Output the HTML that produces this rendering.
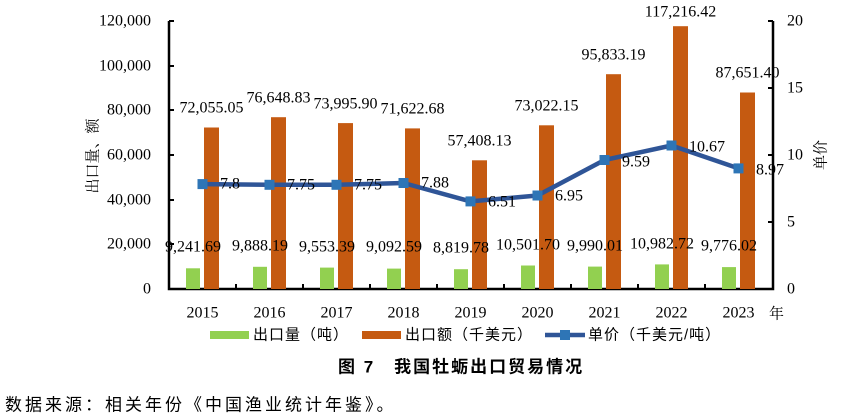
<!DOCTYPE html>
<html><head><meta charset="utf-8"><style>
body{margin:0;background:#fff;}
svg{display:block;}
.n{font-family:"Liberation Serif",serif;font-size:16px;fill:#000;}
.c{font-family:"Liberation Sans","Noto Sans CJK SC",sans-serif;fill:#000;}
</style></head><body>
<svg width="867" height="417" xmlns="http://www.w3.org/2000/svg">
<g stroke="#000" stroke-width="2.5" fill="none">
<path d="M169,21 V289 H773 V21"/>
</g>
<g stroke="#000" stroke-width="2">
<path d="M169,21h5M169,66h5M169,110h5M169,155h5M169,200h5M169,244h5"/>
<path d="M773,21h-5M773,88h-5M773,155h-5M773,222h-5"/>
<path d="M236,289v-5M303,289v-5M370,289v-5M437,289v-5M504,289v-5M571,289v-5M638,289v-5M705,289v-5"/>
</g>
<g class="n" text-anchor="end" dominant-baseline="central">
<text x="151" y="21">120,000</text><text x="151" y="66">100,000</text><text x="151" y="110">80,000</text>
<text x="151" y="155">60,000</text><text x="151" y="200">40,000</text><text x="151" y="244">20,000</text><text x="151" y="289">0</text>
</g>
<g class="n" dominant-baseline="central">
<text x="787" y="21">20</text><text x="787" y="88">15</text><text x="787" y="155">10</text><text x="787" y="222">5</text><text x="787" y="289">0</text>
</g>
<text transform="translate(92,156) rotate(-90)" text-anchor="middle" dominant-baseline="central" style="font-family:'Noto Serif CJK SC',serif;font-size:15px">出口量、额</text>
<text transform="translate(820,155) rotate(-90)" text-anchor="middle" dominant-baseline="central" style="font-family:'Noto Serif CJK SC',serif;font-size:15px">单价</text>
<g fill="#92D050">
<rect x="186" y="268.3" width="14" height="20.7"/><rect x="253" y="266.8" width="14" height="22.2"/>
<rect x="320" y="267.6" width="14" height="21.4"/><rect x="387" y="268.6" width="14" height="20.4"/>
<rect x="454" y="269.2" width="14" height="19.8"/><rect x="521" y="265.5" width="14" height="23.5"/>
<rect x="588" y="266.6" width="14" height="22.4"/><rect x="655" y="264.4" width="14" height="24.6"/>
<rect x="722" y="267.1" width="14" height="21.9"/>
</g>
<g fill="#C55A11">
<rect x="204" y="127.5" width="15" height="161.5"/><rect x="271" y="117.2" width="15" height="171.8"/>
<rect x="338" y="123.1" width="15" height="165.9"/><rect x="405" y="128.4" width="15" height="160.6"/>
<rect x="472" y="160.3" width="15" height="128.7"/><rect x="539" y="125.3" width="15" height="163.7"/>
<rect x="606" y="74.2" width="15" height="214.8"/><rect x="673" y="26.2" width="15" height="262.8"/>
<rect x="740" y="92.5" width="15" height="196.5"/>
</g>
<polyline points="202.5,184.1 269.5,184.8 336.5,184.8 403.5,183 470.5,201.4 537.5,195.5 604.5,160 671.5,145.5 738.5,168.4" fill="none" stroke="#2F5597" stroke-width="4.5" stroke-linejoin="round"/>
<g fill="#2E75B6">
<rect x="197.5" y="179.1" width="10" height="10"/><rect x="264.5" y="179.8" width="10" height="10"/>
<rect x="331.5" y="179.8" width="10" height="10"/><rect x="398.5" y="178" width="10" height="10"/>
<rect x="465.5" y="196.4" width="10" height="10"/><rect x="532.5" y="190.5" width="10" height="10"/>
<rect x="599.5" y="155" width="10" height="10"/><rect x="666.5" y="140.5" width="10" height="10"/>
<rect x="733.5" y="163.4" width="10" height="10"/>
</g>
<g class="n" text-anchor="middle" dominant-baseline="central">
<text x="211.5" y="108">72,055.05</text><text x="278.5" y="98">76,648.83</text>
<text x="345.5" y="104">73,995.90</text><text x="412.5" y="109">71,622.68</text>
<text x="479.5" y="141">57,408.13</text><text x="546.5" y="106">73,022.15</text>
<text x="613.5" y="55">95,833.19</text><text x="680.5" y="12">117,216.42</text>
<text x="747.5" y="73">87,651.40</text>
<text x="193" y="247">9,241.69</text><text x="260" y="246">9,888.19</text>
<text x="327" y="247">9,553.39</text><text x="394" y="247">9,092.59</text>
<text x="461" y="248">8,819.78</text><text x="528" y="245">10,501.70</text>
<text x="595" y="246">9,990.01</text><text x="662" y="244">10,982.72</text>
<text x="729" y="246">9,776.02</text>
</g>
<g class="n" dominant-baseline="central">
<text x="220" y="184">7.8</text><text x="287" y="185">7.75</text><text x="354" y="185">7.75</text>
<text x="421" y="183">7.88</text><text x="488" y="202">6.51</text><text x="555" y="196">6.95</text>
<text x="622" y="162">9.59</text><text x="689" y="147">10.67</text><text x="756" y="170">8.97</text>
</g>
<g class="n" text-anchor="middle" dominant-baseline="central">
<text x="202.5" y="313">2015</text><text x="269.5" y="313">2016</text><text x="336.5" y="313">2017</text>
<text x="403.5" y="313">2018</text><text x="470.5" y="313">2019</text><text x="537.5" y="313">2020</text>
<text x="604.5" y="313">2021</text><text x="671.5" y="313">2022</text><text x="738.5" y="313">2023</text>
</g>
<text x="769" y="313" dominant-baseline="central" style="font-family:'Noto Serif CJK SC',serif;font-size:15px">年</text>
<rect x="210" y="331" width="39" height="8" fill="#92D050"/>
<text class="c" x="253" y="335" dominant-baseline="central" font-size="15" letter-spacing="1">出口量（吨）</text>
<rect x="362" y="331" width="39" height="8" fill="#C55A11"/>
<text class="c" x="405" y="335" dominant-baseline="central" font-size="15" letter-spacing="1">出口额（千美元）</text>
<line x1="545" y1="335" x2="585" y2="335" stroke="#2F5597" stroke-width="4.5"/>
<rect x="560" y="330" width="10" height="10" fill="#2E75B6"/>
<text class="c" x="588" y="335" dominant-baseline="central" font-size="15" letter-spacing="1">单价（千美元/吨）</text>
<text class="c" x="338" y="367" dominant-baseline="central" font-size="17" font-weight="bold" letter-spacing="2">图 7　我国牡蛎出口贸易情况</text>
<text class="c" x="5" y="405" dominant-baseline="central" font-size="17" letter-spacing="3">数据来源：相关年份《中国渔业统计年鉴》。</text>
</svg>
</body></html>
